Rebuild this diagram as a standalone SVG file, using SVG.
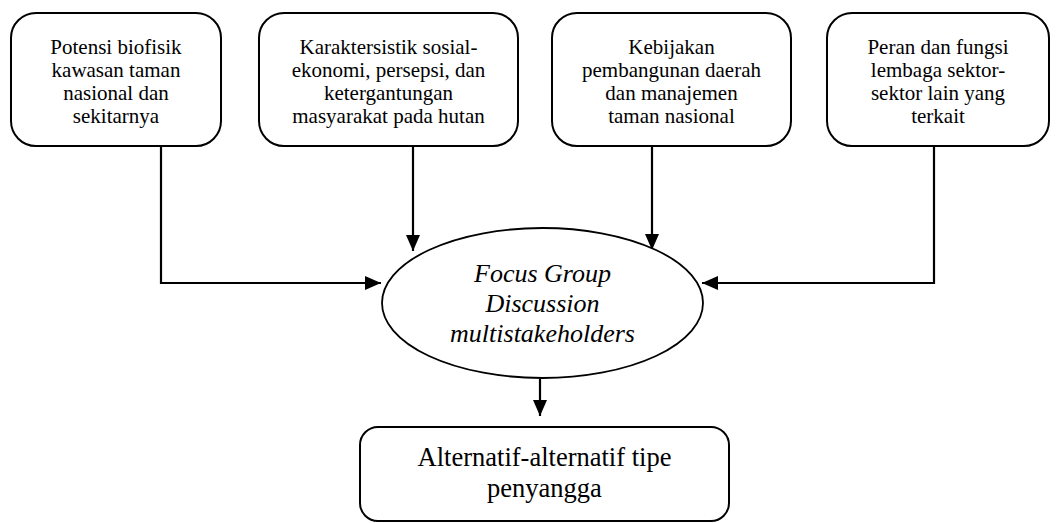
<svg xmlns="http://www.w3.org/2000/svg" width="1058" height="523" viewBox="0 0 1058 523">
<style>
.box{fill:#fff;stroke:#000;stroke-width:2}
.t{font-family:"Liberation Serif","Times New Roman",serif;font-size:21px;fill:#000;text-anchor:middle}
.ti{font-family:"Liberation Serif","Times New Roman",serif;font-size:26px;font-style:italic;fill:#000;text-anchor:middle}
.tb{font-family:"Liberation Serif","Times New Roman",serif;font-size:26.5px;fill:#000;text-anchor:middle}
.c{fill:none;stroke:#000;stroke-width:2.2}
</style>
<defs>
<marker id="ah" markerUnits="userSpaceOnUse" markerWidth="18" markerHeight="16" refX="16" refY="7" orient="auto">
<path d="M0,0 L16,7 L0,14 Z" fill="#000"/>
</marker>
</defs>
<g id="connectors">
<path class="c" d="M161,146 V283 H381" marker-end="url(#ah)"/>
<path class="c" d="M413,146 V251" marker-end="url(#ah)"/>
<path class="c" d="M652,143 V250" marker-end="url(#ah)"/>
<path class="c" d="M934,146 V283 H702" marker-end="url(#ah)"/>
<path class="c" d="M540,379 V416" marker-end="url(#ah)"/>
</g>
<g id="n1">
<rect class="box" x="11" y="13" width="210" height="133" rx="25"/>
<text class="t" x="116" y="54">Potensi biofisik</text>
<text class="t" x="116" y="77">kawasan taman</text>
<text class="t" x="116" y="100">nasional dan</text>
<text class="t" x="116" y="123">sekitarnya</text>
</g>
<g id="n2">
<rect class="box" x="259" y="13" width="259" height="133" rx="25"/>
<text class="t" x="388.5" y="54">Karaktersistik sosial-</text>
<text class="t" x="388.5" y="77">ekonomi, persepsi, dan</text>
<text class="t" x="388.5" y="100">ketergantungan</text>
<text class="t" x="388.5" y="123">masyarakat pada hutan</text>
</g>
<g id="n3">
<rect class="box" x="552" y="13" width="239" height="133" rx="25"/>
<text class="t" x="671.5" y="54">Kebijakan</text>
<text class="t" x="671.5" y="77">pembangunan daerah</text>
<text class="t" x="671.5" y="100">dan manajemen</text>
<text class="t" x="671.5" y="123">taman nasional</text>
</g>
<g id="n4">
<rect class="box" x="827" y="13" width="222" height="133" rx="25"/>
<text class="t" x="938" y="54">Peran dan fungsi</text>
<text class="t" x="938" y="77">lembaga sektor-</text>
<text class="t" x="938" y="100">sektor lain yang</text>
<text class="t" x="938" y="123">terkait</text>
</g>
<g id="fgd">
<ellipse cx="542.5" cy="303" rx="160.5" ry="75" fill="#fff" stroke="#000" stroke-width="1.8"/>
<text class="ti" x="542.5" y="282">Focus Group</text>
<text class="ti" x="542.5" y="312">Discussion</text>
<text class="ti" x="542.5" y="342">multistakeholders</text>
</g>
<g id="result">
<rect class="box" x="360" y="427" width="369" height="94" rx="18"/>
<text class="tb" x="544.5" y="466">Alternatif-alternatif tipe</text>
<text class="tb" x="544.5" y="497">penyangga</text>
</g>
</svg>
